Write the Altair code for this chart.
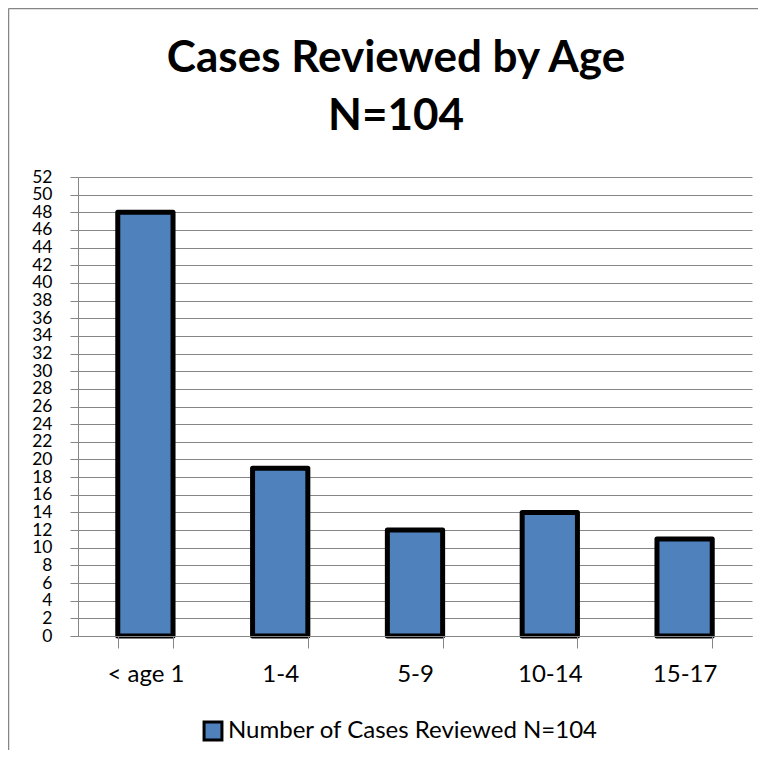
import altair as alt
import pandas as pd

categories = ["< age 1", "1-4", "5-9", "10-14", "15-17"]
values = [48, 19, 12, 14, 11]
series_name = "Number of Cases Reviewed N=104"
y_ticks = list(range(0, 53, 2))
title_lines = ["Cases Reviewed by Age", "N=104"]

df = pd.DataFrame({"age": categories, "cases": values, "series": [series_name] * len(categories)})

FONT = "Lato"
GRID = "#868686"

bars = alt.Chart(df).mark_bar(stroke="black", strokeWidth=5, strokeJoin="round").encode(
    x=alt.X("age:N", sort=categories, title=None,
            scale=alt.Scale(paddingInner=0.59, paddingOuter=0.295),
            axis=alt.Axis(labelAngle=0, tickBand="extent", tickSize=12, tickColor=GRID,
                          domainColor=GRID, labelFontSize=24, labelFont=FONT, labelColor="black",
                          labelPadding=14, grid=False, zindex=1)),
    y=alt.Y("cases:Q", title=None,
            scale=alt.Scale(domain=[0, 52], nice=False),
            axis=alt.Axis(values=y_ticks, tickSize=8, tickColor=GRID, domainColor=GRID,
                          gridColor=GRID, gridOpacity=1, labelFontSize=17.5, labelFont=FONT,
                          labelColor="black", labelPadding=18, labelOverlap=False)),
    color=alt.Color("series:N", scale=alt.Scale(range=["#4F81BD"]),
                    legend=alt.Legend(title=None, orient="none", legendX=123, legendY=542,
                                      symbolType="square", symbolSize=320,
                                      symbolStrokeColor="black", symbolStrokeWidth=3,
                                      labelFontSize=24, labelFont=FONT, labelColor="black",
                                      labelOffset=3, padding=0, labelLimit=600)),
)

title_df = pd.DataFrame({"text": ["\n".join(title_lines)]})
title = alt.Chart(title_df).mark_text(
    font=FONT, fontSize=44, fontWeight="bold", color="black", align="center",
    baseline="alphabetic", lineBreak="\n", lineHeight=58
).encode(text="text:N", x=alt.value(318), y=alt.value(-105))

one = pd.DataFrame({"a": [0]})
border_left = alt.Chart(one).mark_rule(stroke="#868686", strokeWidth=1.5).encode(
    x=alt.value(-69.5), y=alt.value(-168.5), y2=alt.value(900))
border_top = alt.Chart(one).mark_rule(stroke="#868686", strokeWidth=1.5).encode(
    x=alt.value(-69.5), x2=alt.value(900), y=alt.value(-168.5))

chart = alt.layer(border_left, border_top, bars, title).properties(
    width=674, height=459,
    padding={"left": 70, "top": 169, "right": 6, "bottom": 114},
    autosize=alt.AutoSizeParams(type="none"),
).configure_view(stroke=None)

chart.save("out.html", embed_options={"renderer": "svg", "actions": False})
